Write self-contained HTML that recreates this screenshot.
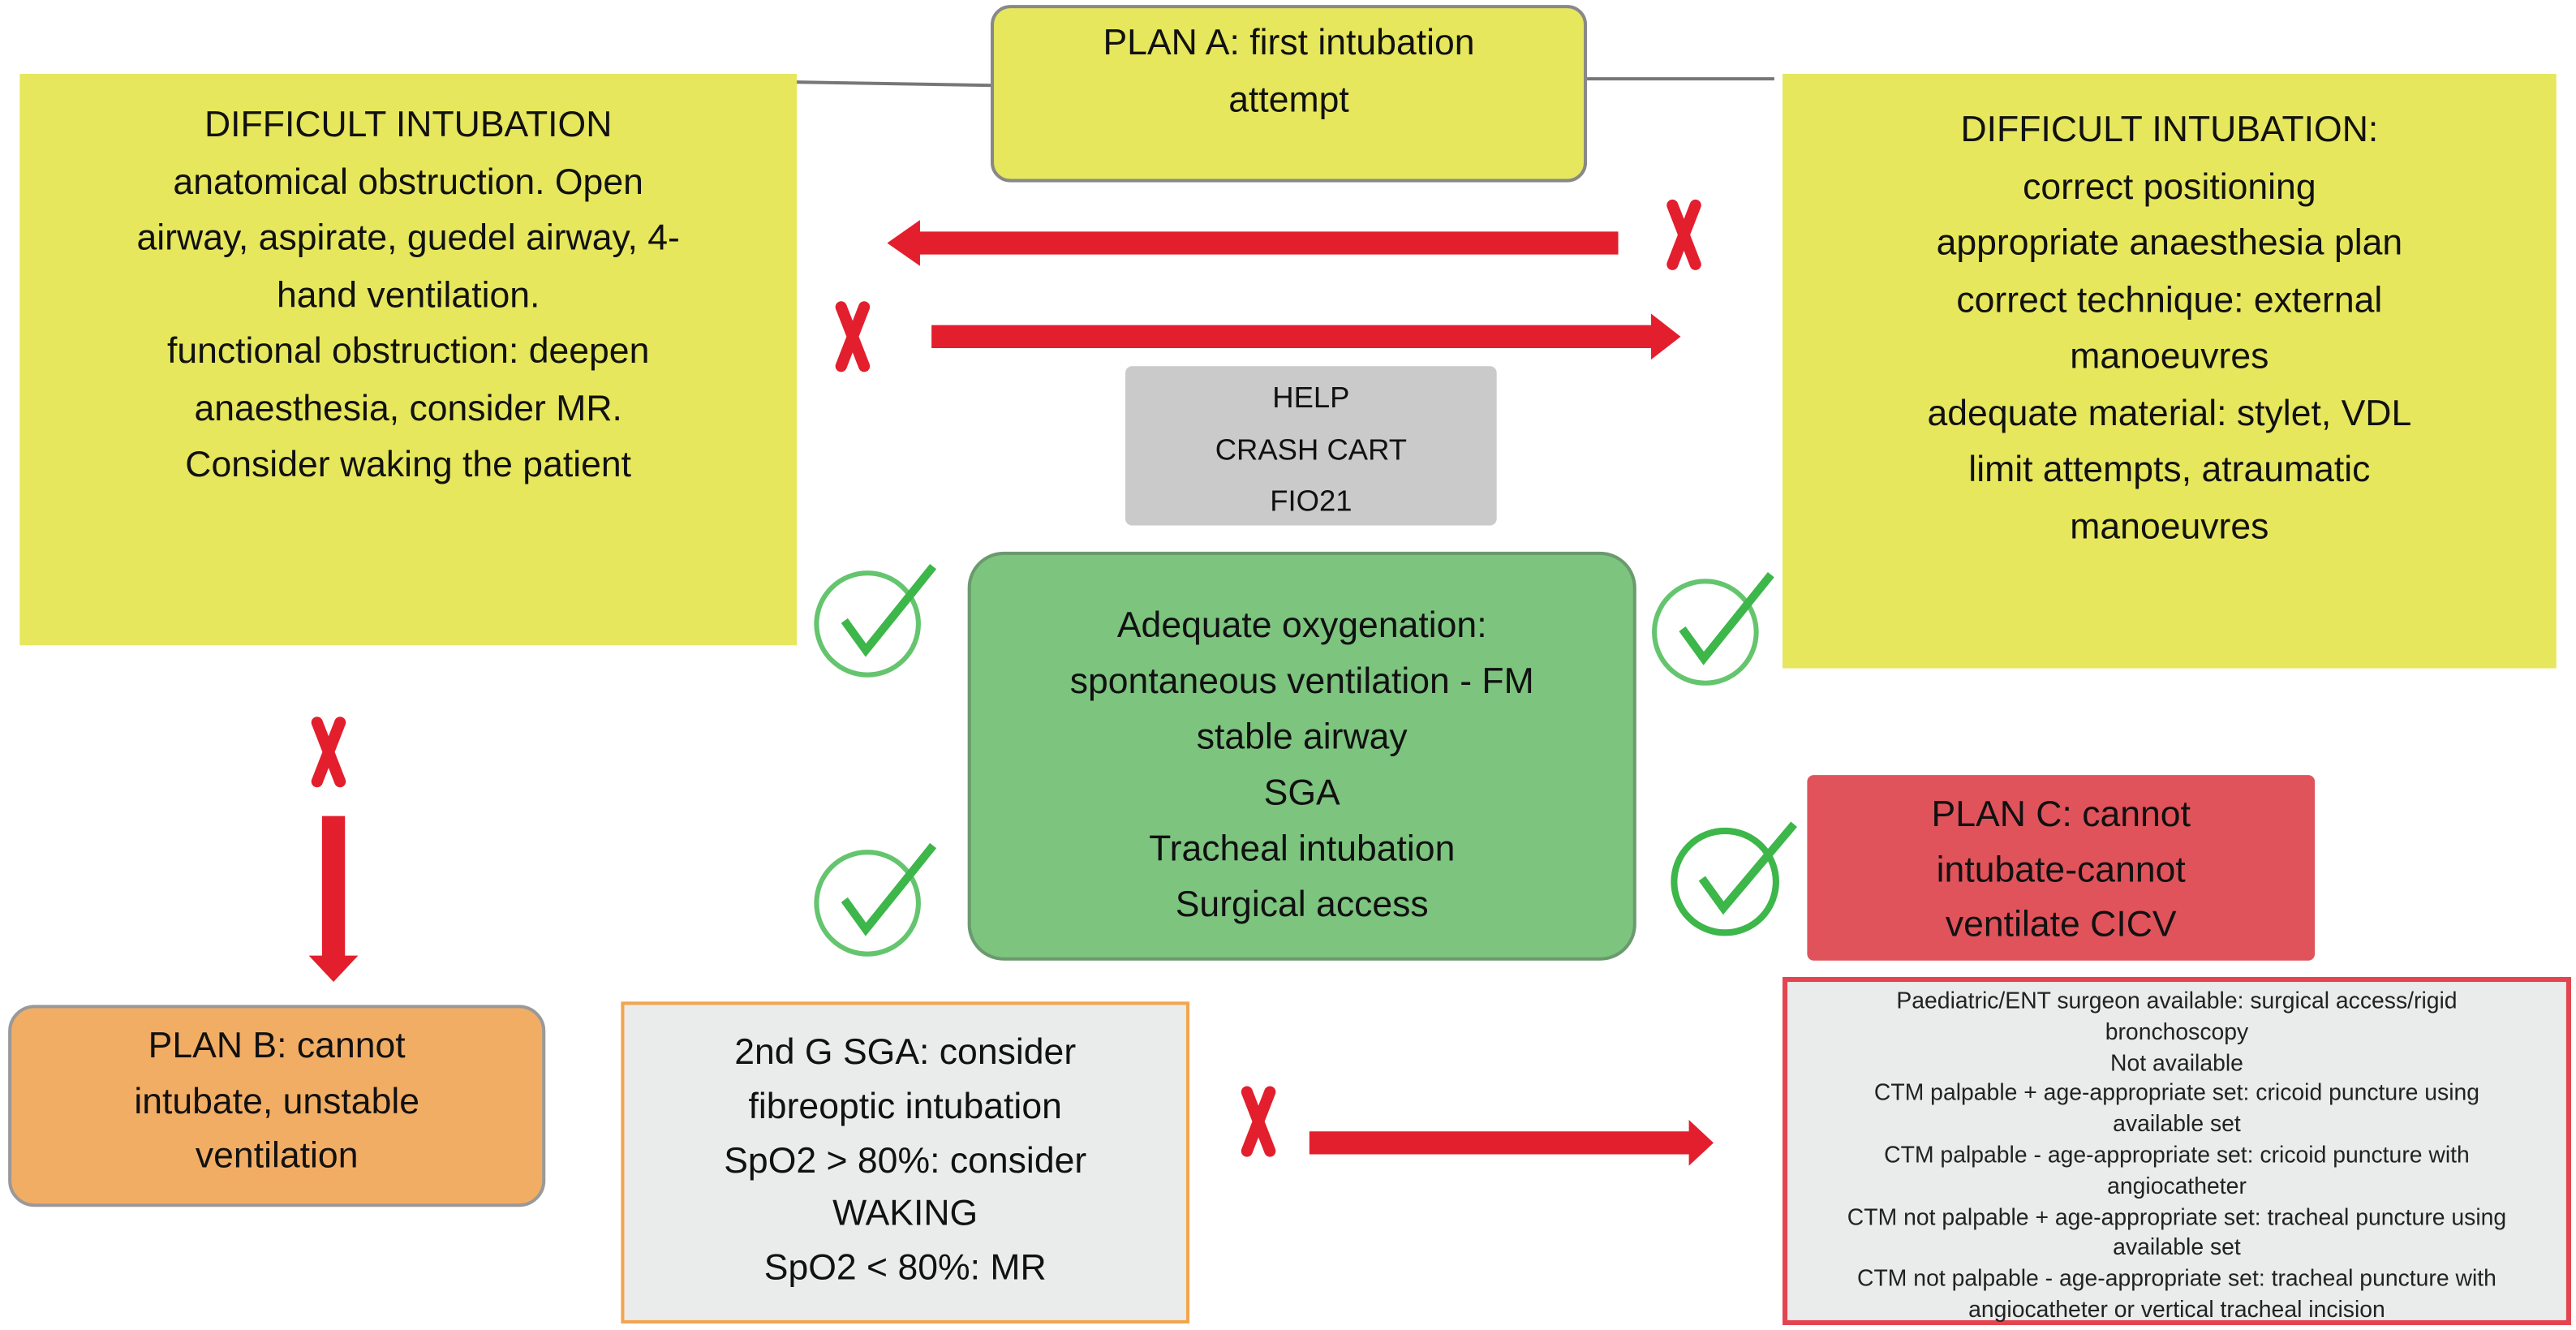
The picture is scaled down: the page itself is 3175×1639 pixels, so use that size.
<!DOCTYPE html>
<html><head><meta charset="utf-8"><style>
html,body{margin:0;padding:0;background:#fff;width:3175px;height:1639px;overflow:hidden}
#w{position:absolute;left:0;top:0;width:1568px;height:810px;transform:scale(2.0249,2.0235);transform-origin:0 0;font-family:"Liberation Sans",sans-serif;color:#111}
.b{position:absolute;box-sizing:border-box;text-align:center}
.t{position:absolute;left:0;right:0;text-align:center;white-space:nowrap}
</style></head><body><div id="w">
<svg width="1568" height="810" style="position:absolute;left:0;top:0">
<line x1="485" y1="50" x2="605" y2="52" stroke="#777" stroke-width="2"/>
<line x1="966" y1="48" x2="1080" y2="48" stroke="#777" stroke-width="2"/>
<polygon points="985,141 560,141 560,134 540,148 560,162 560,155 985,155" fill="#e31e2d"/>
<polygon points="567,198 1005,198 1005,191 1023,205 1005,219 1005,212 567,212" fill="#e31e2d"/>
<polygon points="196,497 210,497 210,582 218,582 203,598 188,582 196,582" fill="#e31e2d"/>
<polygon points="797,689 1028,689 1028,682 1043,696 1028,710 1028,703 797,703" fill="#e31e2d"/>
<g fill="none" stroke="#e31e2d" stroke-width="7" stroke-linecap="round">
<path d="M1018,125 L1032,161 M1032,125 L1018,161"/>
<path d="M512,187 L526,223 M526,187 L512,223"/>
<path d="M193,440 L207,476 M207,440 L193,476"/>
<path d="M759,665 L773,701 M773,665 L759,701"/>
</g>
<g fill="none" stroke="#3db64a">
<circle cx="528" cy="380" r="31" stroke-width="3" opacity=".8"/><path d="M514,378 L527,396 L568,345" stroke-width="5"/>
<circle cx="1038" cy="385" r="31" stroke-width="3" opacity=".8"/><path d="M1024,383 L1037,401 L1078,350" stroke-width="5"/>
<circle cx="528" cy="550" r="31" stroke-width="3" opacity=".8"/><path d="M514,548 L527,566 L568,515" stroke-width="5"/>
<circle cx="1050" cy="537" r="31" stroke-width="4"/><path d="M1036,535 L1049,553 L1092,502" stroke-width="5"/>
</g>
</svg>
<div class="b" style="left:603px;top:3px;width:363px;height:108px;background:#e6e75c;border:2px solid #888;border-radius:12px;font-size:22px">
<div class="t" style="top:8px">PLAN A: first intubation</div><div class="t" style="top:43px">attempt</div></div>
<div class="b" style="left:12px;top:45px;width:473px;height:348px;background:#e6e75c;font-size:22px;line-height:34.5px;padding-top:14px">DIFFICULT INTUBATION<br>anatomical obstruction. Open<br>airway, aspirate, guedel airway, 4-<br>hand ventilation.<br>functional obstruction: deepen<br>anaesthesia, consider MR.<br>Consider waking the patient</div>
<div class="b" style="left:1085px;top:45px;width:471px;height:362px;background:#e6e75c;font-size:22px;line-height:34.5px;padding-top:17px">DIFFICULT INTUBATION:<br>correct positioning<br>appropriate anaesthesia plan<br>correct technique: external<br>manoeuvres<br>adequate material: stylet, VDL<br>limit attempts, atraumatic<br>manoeuvres</div>
<div class="b" style="left:685px;top:223px;width:226px;height:97px;background:#cacaca;border-radius:4px;font-size:18px;line-height:31.5px;padding-top:4px">HELP<br>CRASH CART<br>FIO21</div>
<div class="b" style="left:589px;top:336px;width:407px;height:249px;background:#7dc47f;border:2px solid #6a9a6e;border-radius:22px;font-size:22px;line-height:34px;padding-top:26px">Adequate oxygenation:<br>spontaneous ventilation - FM<br>stable airway<br>SGA<br>Tracheal intubation<br>Surgical access</div>
<div class="b" style="left:1100px;top:472px;width:309px;height:113px;background:#e0535b;border-radius:4px;font-size:22px;line-height:33.5px;padding-top:7px">PLAN C: cannot<br>intubate-cannot<br>ventilate CICV</div>
<div class="b" style="left:1085px;top:595px;width:480px;height:212px;background:#e9ecea;border:3px solid #e34450;font-size:14px;line-height:18.8px;padding-top:2px;color:#222">Paediatric/ENT surgeon available: surgical access/rigid<br>bronchoscopy<br>Not available<br>CTM palpable + age-appropriate set: cricoid puncture using<br>available set<br>CTM palpable - age-appropriate set: cricoid puncture with<br>angiocatheter<br>CTM not palpable + age-appropriate set: tracheal puncture using<br>available set<br>CTM not palpable - age-appropriate set: tracheal puncture with<br>angiocatheter or vertical tracheal incision</div>
<div class="b" style="left:5px;top:612px;width:327px;height:123px;background:#f2ad64;border:2px solid #999;border-radius:16px;font-size:22px;line-height:33.5px;padding-top:6px">PLAN B: cannot<br>intubate, unstable<br>ventilation</div>
<div class="b" style="left:378px;top:610px;width:346px;height:196px;background:#e9ecea;border:2px solid #f2a54e;font-size:22px;line-height:32.8px;padding-top:13px">2nd G SGA: consider<br>fibreoptic intubation<br>SpO2 &gt; 80%: consider<br>WAKING<br>SpO2 &lt; 80%: MR</div>
</div></body></html>
